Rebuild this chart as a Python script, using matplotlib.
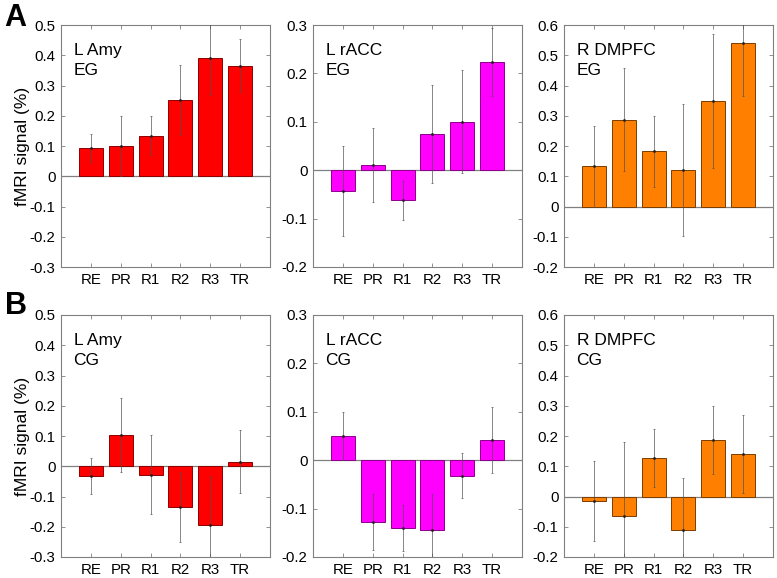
import matplotlib.pyplot as plt
import numpy as np

plt.rcParams['font.family'] = ['Liberation Sans', 'DejaVu Sans']

conditions = ['RE', 'PR', 'R1', 'R2', 'R3', 'TR']
regions = ['L Amy', 'L rACC', 'R DMPFC']
groups = ['EG', 'CG']

# mean fMRI signal (%) and error, row = group, column = region
amy_eg = [0.093, 0.100, 0.134, 0.252, 0.390, 0.366]
amy_eg_err = [0.047, 0.099, 0.065, 0.116, 0.121, 0.088]
racc_eg = [-0.043, 0.011, -0.062, 0.075, 0.100, 0.224]
racc_eg_err = [0.093, 0.076, 0.040, 0.101, 0.106, 0.070]
dmpfc_eg = [0.133, 0.287, 0.182, 0.122, 0.348, 0.542]
dmpfc_eg_err = [0.134, 0.170, 0.118, 0.218, 0.221, 0.177]

amy_cg = [-0.033, 0.103, -0.028, -0.134, -0.193, 0.015]
amy_cg_err = [0.060, 0.122, 0.130, 0.115, 0.162, 0.104]
racc_cg = [0.050, -0.127, -0.140, -0.145, -0.032, 0.042]
racc_cg_err = [0.049, 0.058, 0.047, 0.076, 0.047, 0.068]
dmpfc_cg = [-0.014, -0.065, 0.127, -0.110, 0.188, 0.141]
dmpfc_cg_err = [0.133, 0.245, 0.097, 0.171, 0.112, 0.130]

means = [[amy_eg, racc_eg, dmpfc_eg], [amy_cg, racc_cg, dmpfc_cg]]
errs = [[amy_eg_err, racc_eg_err, dmpfc_eg_err], [amy_cg_err, racc_cg_err, dmpfc_cg_err]]

ylims = [(-0.3, 0.5), (-0.2, 0.3), (-0.2, 0.6)]
colors = ['#ff0000', '#ff00ff', '#ff8000']
edges = ['#8c0000', '#8c008c', '#7a3d00']

fig = plt.figure(figsize=(7.77, 5.78), dpi=100)
lefts = [61 / 777, 313 / 777, 564 / 777]
bottoms = [1 - 267 / 578, 1 - 557 / 578]
w = 209 / 777
h = 242 / 578

x = np.arange(1, 7)
for r in range(2):
    for c in range(3):
        ax = fig.add_axes([lefts[c], bottoms[r], w, h])
        ax.bar(x, means[r][c], width=0.8, color=colors[c], edgecolor=edges[c], linewidth=0.7, zorder=2)
        ax.errorbar(x, means[r][c], yerr=errs[r][c], fmt='none', ecolor='#505050',
                    elinewidth=0.6, capsize=1.0, capthick=0.6, alpha=0.8, zorder=3)
        ax.plot(x, means[r][c], 's', ms=0.9, color='#202020', zorder=4)
        ax.axhline(0, color='#808080', lw=0.9, zorder=1)
        ax.set_xlim(0, 7)
        ax.set_ylim(*ylims[c])
        lo, hi = ylims[c]
        yt = np.round(np.arange(lo, hi + 0.001, 0.1), 1)
        ax.set_yticks(yt)
        ax.set_yticklabels([('%g' % v) if v != 0 else '0' for v in yt])
        ax.set_xticks(x)
        ax.set_xticklabels(conditions)
        ax.tick_params(direction='in', length=3, width=0.6, color='#808080',
                       labelsize=10.8, top=True, right=True, pad=4)
        for s in ax.spines.values():
            s.set_color('#808080')
            s.set_linewidth(0.8)
        ax.text(0.06, 0.925, regions[c] + '\n' + groups[r], transform=ax.transAxes,
                fontsize=12.5, va='top', ha='left', linespacing=1.4)
        if c == 0:
            ax.set_ylabel('fMRI signal (%)', fontsize=12.5, labelpad=0)

fig.text(0.006, 0.995, 'A', fontsize=22, fontweight='bold', va='top', ha='left')
fig.text(0.006, 0.497, 'B', fontsize=22, fontweight='bold', va='top', ha='left')

fig.savefig('out.png', dpi=100)
